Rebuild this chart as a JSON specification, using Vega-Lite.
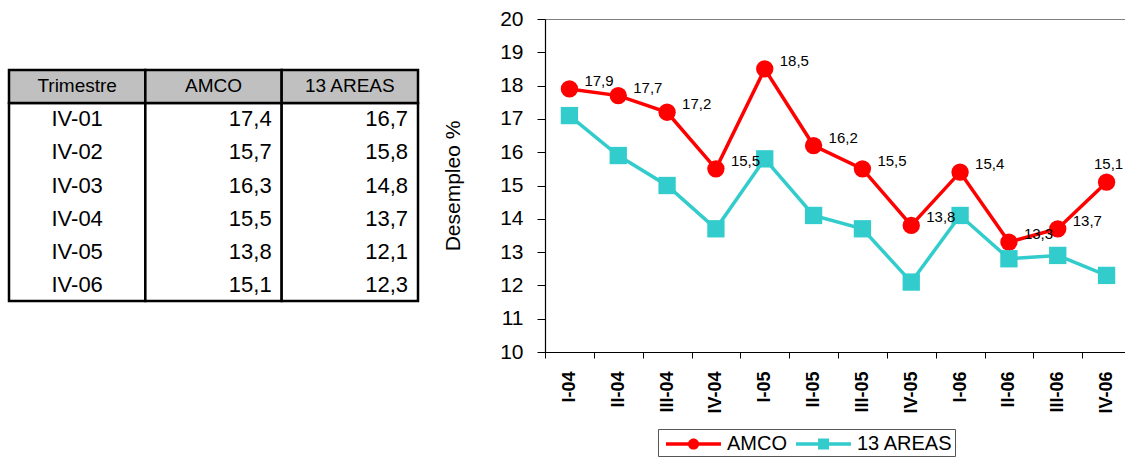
{
  "$schema": "https://vega.github.io/schema/vega-lite/v6.json",
  "padding": {"left": 7, "top": 7, "right": 0, "bottom": 0},
  "background": "white",
  "config": {
    "font": "Liberation Sans",
    "locale": {"number": {"decimal": ",", "thousands": ".", "grouping": [3], "currency": ["", " €"]}},
    "view": {"stroke": "#808080"},
    "axis": {"grid": false, "domainColor": "#000", "tickColor": "#000", "labelColor": "#000", "titleColor": "#000", "labelFont": "Liberation Sans", "titleFont": "Liberation Sans"}
  },
  "datasets": {
    "serie": [
      {"t": "I-04", "s": "AMCO", "v": 17.9},
      {"t": "II-04", "s": "AMCO", "v": 17.7},
      {"t": "III-04", "s": "AMCO", "v": 17.2},
      {"t": "IV-04", "s": "AMCO", "v": 15.5},
      {"t": "I-05", "s": "AMCO", "v": 18.5},
      {"t": "II-05", "s": "AMCO", "v": 16.2},
      {"t": "III-05", "s": "AMCO", "v": 15.5},
      {"t": "IV-05", "s": "AMCO", "v": 13.8},
      {"t": "I-06", "s": "AMCO", "v": 15.4},
      {"t": "II-06", "s": "AMCO", "v": 13.3},
      {"t": "III-06", "s": "AMCO", "v": 13.7},
      {"t": "IV-06", "s": "AMCO", "v": 15.1},
      {"t": "I-04", "s": "13 AREAS", "v": 17.1},
      {"t": "II-04", "s": "13 AREAS", "v": 15.9},
      {"t": "III-04", "s": "13 AREAS", "v": 15.0},
      {"t": "IV-04", "s": "13 AREAS", "v": 13.7},
      {"t": "I-05", "s": "13 AREAS", "v": 15.8},
      {"t": "II-05", "s": "13 AREAS", "v": 14.1},
      {"t": "III-05", "s": "13 AREAS", "v": 13.7},
      {"t": "IV-05", "s": "13 AREAS", "v": 12.1},
      {"t": "I-06", "s": "13 AREAS", "v": 14.1},
      {"t": "II-06", "s": "13 AREAS", "v": 12.8},
      {"t": "III-06", "s": "13 AREAS", "v": 12.9},
      {"t": "IV-06", "s": "13 AREAS", "v": 12.3}
    ],
    "tabla": [
      {"row": "IV-01", "col": "AMCO", "v": 17.4},
      {"row": "IV-02", "col": "AMCO", "v": 15.7},
      {"row": "IV-03", "col": "AMCO", "v": 16.3},
      {"row": "IV-04", "col": "AMCO", "v": 15.5},
      {"row": "IV-05", "col": "AMCO", "v": 13.8},
      {"row": "IV-06", "col": "AMCO", "v": 15.1},
      {"row": "IV-01", "col": "13 AREAS", "v": 16.7},
      {"row": "IV-02", "col": "13 AREAS", "v": 15.8},
      {"row": "IV-03", "col": "13 AREAS", "v": 14.8},
      {"row": "IV-04", "col": "13 AREAS", "v": 13.7},
      {"row": "IV-05", "col": "13 AREAS", "v": 12.1},
      {"row": "IV-06", "col": "13 AREAS", "v": 12.3}
    ],
    "columnas": [
      {"col": "Trimestre"},
      {"col": "AMCO"},
      {"col": "13 AREAS"}
    ]
  },
  "bounds": "flush",
  "spacing": 127,
  "hconcat": [
    {
      "width": 409,
      "height": 333,
      "view": {"stroke": null},
      "encoding": {
        "x": {"field": "col", "type": "nominal", "scale": {"domain": ["Trimestre", "AMCO", "13 AREAS"], "paddingInner": 0, "paddingOuter": 0}, "axis": null},
        "y": {"field": "row", "type": "nominal", "scale": {"domain": ["_a", "header", "IV-01", "IV-02", "IV-03", "IV-04", "IV-05", "IV-06", "_b"], "paddingInner": 0, "paddingOuter": 0.545}, "axis": null}
      },
      "layer": [
        {
          "data": {"name": "columnas"},
          "mark": {"type": "rect", "fill": "white", "stroke": "#000", "strokeWidth": 2.5},
          "encoding": {
            "y": {"datum": "IV-01", "bandPosition": 0},
            "y2": {"datum": "IV-06", "bandPosition": 1}
          }
        },
        {
          "data": {"name": "columnas"},
          "mark": {"type": "rect", "fill": "#c0c0c0", "stroke": "#000", "strokeWidth": 2.5},
          "encoding": {"y": {"datum": "header"}}
        },
        {
          "data": {"name": "columnas"},
          "mark": {"type": "text", "fontSize": 19, "color": "#000"},
          "encoding": {"y": {"datum": "header"}, "text": {"field": "col"}}
        },
        {
          "data": {"name": "tabla"},
          "transform": [{"filter": "datum.col == 'AMCO'"}],
          "mark": {"type": "text", "fontSize": 22, "color": "#000"},
          "encoding": {"x": {"datum": "Trimestre"}, "text": {"field": "row"}}
        },
        {
          "data": {"name": "tabla"},
          "mark": {"type": "text", "fontSize": 22, "color": "#000", "align": "right", "dx": -10},
          "encoding": {"x": {"field": "col", "type": "nominal", "bandPosition": 1}, "text": {"field": "v", "type": "quantitative", "format": ".1f"}}
        }
      ]
    },
    {
      "width": 586,
      "height": 333,
      "data": {"name": "serie"},
      "encoding": {
        "x": {
          "field": "t", "type": "ordinal", "sort": null,
          "scale": {"type": "band", "paddingInner": 0, "paddingOuter": 0},
          "axis": {"title": null, "labelAngle": 270, "labelFontSize": 18, "labelFontWeight": "bold", "tickBand": "extent", "tickSize": 6, "labelPadding": 13, "domainWidth": 1.2}
        },
        "y": {
          "field": "v", "type": "quantitative",
          "scale": {"domain": [10, 20], "nice": false, "zero": false},
          "axis": {"title": "Desempleo %", "values": [10, 11, 12, 13, 14, 15, 16, 17, 18, 19, 20], "labelFontSize": 21, "tickSize": 8, "labelPadding": 14, "titleFontSize": 21, "titleFontWeight": "normal", "titlePadding": 36, "domainWidth": 1.2}
        },
        "color": {
          "field": "s", "type": "nominal",
          "scale": {"domain": ["AMCO", "13 AREAS"], "range": ["#ff0000", "#33cccc"]},
          "legend": {
            "title": null, "orient": "none", "legendX": 649, "legendY": 410, "direction": "horizontal",
            "strokeColor": "#555", "fillColor": "white", "padding": 2, "labelFontSize": 20, "labelFont": "Liberation Sans", "labelColor": "#000",
            "symbolSize": 676, "labelOffset": 41, "columnPadding": 3,
            "encode": {
              "symbols": {
                "update": {
                  "shape": {"signal": "datum.value == 'AMCO' ? 'M-0.54,-0.135H3.69V0.135H-0.54Z M2.01,0A0.43,0.43 0 1,1 1.15,0A0.43,0.43 0 1,1 2.01,0Z' : 'M-0.54,-0.135H3.69V0.135H-0.54Z M1.16,-0.42H2.0V0.42H1.16Z'"},
                  "fill": {"signal": "datum.value == 'AMCO' ? '#ff0000' : '#33cccc'"},
                  "stroke": {"value": null},
                  "strokeWidth": {"value": 0},
                  "opacity": {"value": 1}
                }
              }
            }
          }
        },
        "order": {"value": null}
      },
      "layer": [
        {"mark": {"type": "line", "strokeWidth": 3.5}},
        {
          "transform": [{"filter": "datum.s == 'AMCO'"}],
          "mark": {"type": "point", "filled": true, "opacity": 1, "size": 300, "shape": "circle"}
        },
        {
          "transform": [{"filter": "datum.s == '13 AREAS'"}],
          "mark": {"type": "point", "filled": true, "opacity": 1, "size": 300, "shape": "square"}
        },
        {
          "transform": [{"filter": "datum.s == 'AMCO' && datum.t != 'IV-06'"}],
          "mark": {"type": "text", "align": "left", "dx": 15, "dy": -8, "fontSize": 15, "font": "Liberation Sans Narrow, Liberation Sans", "color": "#000"},
          "encoding": {"text": {"field": "v", "type": "quantitative", "format": ".1f"}, "color": {"value": "#000"}}
        },
        {
          "transform": [{"filter": "datum.s == 'AMCO' && datum.t == 'IV-06'"}],
          "mark": {"type": "text", "align": "center", "dx": 2, "dy": -18, "fontSize": 15, "font": "Liberation Sans Narrow, Liberation Sans", "color": "#000"},
          "encoding": {"text": {"field": "v", "type": "quantitative", "format": ".1f"}, "color": {"value": "#000"}}
        }
      ]
    }
  ]
}
